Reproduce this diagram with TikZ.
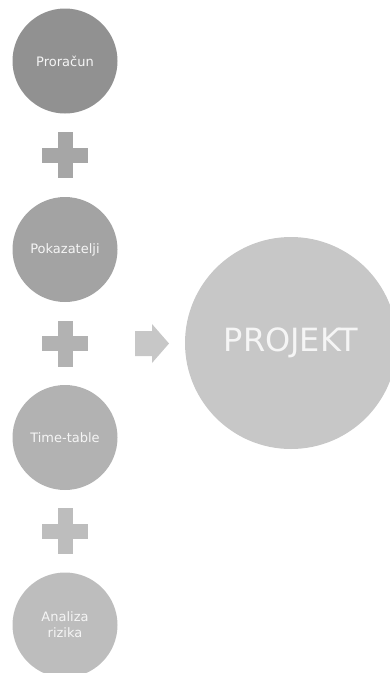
\documentclass[tikz,border=0pt]{standalone}
\usepackage{fontspec}
\setmainfont{DejaVu Sans}
\usetikzlibrary{calc}

\colorlet{gone}{black!43}
\colorlet{gtwo}{black!36}
\colorlet{gthree}{black!30}
\colorlet{gfour}{black!26}
\colorlet{gfive}{black!22}
\colorlet{txtcol}{white!96!black}
\tikzset{
  step circle/.style={circle,inner sep=0,minimum size=105pt,text=txtcol,
    font=\fontsize{13}{16}\selectfont,align=center},
  goal circle/.style={circle,inner sep=0,minimum size=212pt,fill=gfive,text=txtcol,
    font=\fontsize{32}{38}\selectfont},
}
\def\plus#1#2{\fill[#2] (#1)++(-23,-7.5) rectangle ++(46,15);
  \fill[#2] (#1)++(-7.5,-23) rectangle ++(15,46)}

\begin{document}
\begin{tikzpicture}[x=1pt,y=-1pt]
  \useasboundingbox (0,0) rectangle (390,673);

  % STEPS
  \node[step circle,fill=gone]   (proracun)    at (65,61)    {Proračun};
  \node[step circle,fill=gtwo]   (pokazatelji) at (65,249.5) {Pokazatelji};
  \node[step circle,fill=gthree] (timetable)   at (65,437.5) {Time-table};
  \node[step circle,fill=gfour]  (rizik)       at (65,625)   {Analiza\\rizika};

  % PLUS SIGNS
  \coordinate (p1) at ($(proracun)!0.5!(pokazatelji)$);
  \coordinate (p2) at ($(pokazatelji)!0.5!(timetable)$);
  \coordinate (p3) at ($(timetable)!0.5!(rizik)$);
  \plus{p1}{black!35};
  \plus{p2}{black!30};
  \plus{p3}{black!26};

  % RESULT
  \node[goal circle] (projekt) at (291,343) {PROJEKT};
  \coordinate (arr) at (135,343.5);
  \fill[gfive] (arr)++(0,-12.5) -- ++(17,0) -- ++(0,-7) -- ++(17,19.5)
    -- ++(-17,19.5) -- ++(0,-7) -- ++(-17,0) -- cycle;

\end{tikzpicture}
\end{document}
